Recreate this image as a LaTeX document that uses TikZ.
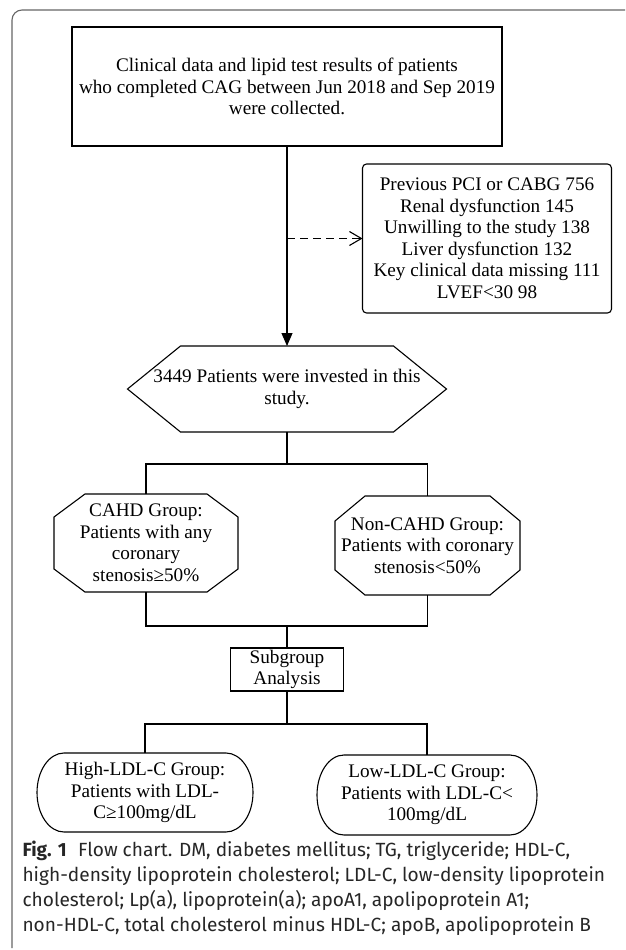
\documentclass[tikz,border=0pt]{standalone}
\usepackage{fontspec}
\setmainfont{Liberation Serif}
\newfontfamily\capfont{Fira Sans}
\usetikzlibrary{arrows.meta}

% outlines for the boxes that are not rectangles
\newcommand{\octframe}[3]{%
\draw ([xshift=#2]#1.north west) -- ([xshift=-#2]#1.north east)
  -- ([yshift=-#3]#1.north east) -- ([yshift=#3]#1.south east)
  -- ([xshift=-#2]#1.south east) -- ([xshift=#2]#1.south west)
  -- ([yshift=#3]#1.south west) -- ([yshift=-#3]#1.north west) -- cycle;}
\newcommand{\hexframe}[2]{%
\draw ([xshift=#2]#1.north west) -- ([xshift=-#2]#1.north east) -- (#1.east)
  -- ([xshift=-#2]#1.south east) -- ([xshift=#2]#1.south west) -- (#1.west) -- cycle;}
\newcommand{\ovalframe}[3]{%
\draw ([xshift=#2]#1.north west) -- ([xshift=-#2]#1.north east)
  arc[start angle=90, end angle=-90, x radius=#2, y radius=#3]
  -- ([xshift=#2]#1.south west)
  arc[start angle=270, end angle=90, x radius=#2, y radius=#3] -- cycle;}

\begin{document}
\begin{tikzpicture}[x=1pt,y=-1pt,line width=1.1pt,
  flow/.style={inner sep=0, outer sep=0, align=center, font=\fontsize{19.2}{21.5}\selectfont},
  framed/.style={flow, draw},
  >={Triangle[length=13pt,width=11pt]}]

\useasboundingbox (0,0) rectangle (625,950);

% frame of the figure
\draw[black!60, rounded corners=10pt] (625,10) -- (12,10) -- (12,948);

\node[framed, minimum width=430pt, minimum height=119pt] (collect) at (287,86.5)
  {Clinical data and lipid test results of patients\\ who completed CAG between Jun 2018 and Sep 2019\\ were collected.};

\node[framed, rounded corners=4pt, minimum width=249pt, minimum height=149pt] (excl) at (487,238.5)
  {Previous PCI or CABG 756\\ Renal dysfunction 145\\ Unwilling to the study 138\\ Liver dysfunction 132\\ Key clinical data missing 111\\ LVEF<30 98};

\node[flow, minimum width=319pt, minimum height=86pt] (study) at (287,389)
  {3449 Patients were invested in this\\ study.};
\hexframe{study}{53pt}

\node[flow, minimum width=184pt, minimum height=98pt] (cahd) at (146,543)
  {CAHD Group:\\ Patients with any\\ coronary\\ stenosis≥50\%};
\octframe{cahd}{31pt}{23pt}

\node[flow, minimum width=185pt, minimum height=99pt] (noncahd) at (427.5,545.5)
  {Non-CAHD Group:\\ Patients with coronary\\ stenosis<50\%};
\octframe{noncahd}{30pt}{25pt}

\node[framed, minimum width=113pt, minimum height=43pt] (sub) at (287,669.5) {Subgroup\\ Analysis};

\node[flow, minimum width=216pt, minimum height=79pt] (high) at (145,792.5)
  {High-LDL-C Group:\\ Patients with LDL-\\ C≥100mg/dL};
\ovalframe{high}{27pt}{39.5pt}

\node[flow, minimum width=220pt, minimum height=80pt] (low) at (427,795)
  {Low-LDL-C Group:\\ Patients with LDL-C<\\ 100mg/dL};
\ovalframe{low}{27pt}{40pt}

\coordinate (skip) at (collect.south |- excl.west);
\coordinate (fork1) at (287,464);
\coordinate (join1) at (287,626);
\coordinate (fork2) at (287,724);

\draw[->] (collect.south) -- (study.north);
\draw[dash pattern=on 8pt off 5pt, -{Straight Barb[length=12pt,width=14pt]}] (skip) -- (excl.west);
\draw (study.south) -- (fork1);
\draw (cahd.north) |- (fork1) -| (noncahd.north);
\draw (cahd.south) |- (join1) -| (noncahd.south);
\draw (join1) -- (sub.north);
\draw (sub.south) -- (fork2);
\draw (high.north) |- (fork2) -| (low.north);

\node[anchor=north west, inner sep=0, align=left, text=black!85,
  font=\capfont\fontsize{19.1}{25}\selectfont] (caption) at (22,840)
  {\textbf{Fig. 1}\hspace{0.6em}Flow chart. DM, diabetes mellitus; TG, triglyceride; HDL-C,\\
   high-density lipoprotein cholesterol; LDL-C, low-density lipoprotein\\
   cholesterol; Lp(a), lipoprotein(a); apoA1, apolipoprotein A1;\\
   non-HDL-C, total cholesterol minus HDL-C; apoB, apolipoprotein B};
\end{tikzpicture}
\end{document}
